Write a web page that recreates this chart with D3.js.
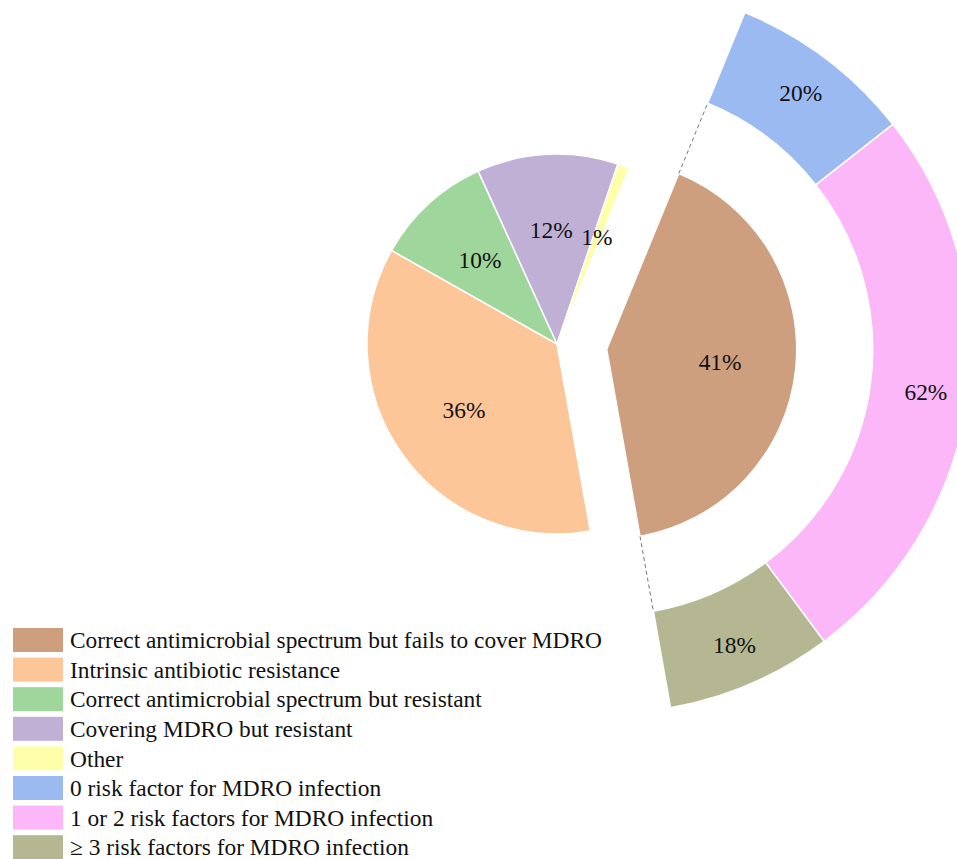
<!DOCTYPE html>
<html>
<head>
<meta charset="utf-8">
<script src="https://cdn.jsdelivr.net/npm/d3@7"></script>
<style>
  html, body { margin: 0; padding: 0; background: #fff; }
  svg text { font-family: "Liberation Serif", "Times New Roman", serif; }
</style>
</head>
<body>
<svg id="chart" width="957" height="859"></svg>
<script>
// ---- data ----
const pieCategories = [
  "Correct antimicrobial spectrum but fails to cover MDRO",
  "Intrinsic antibiotic resistance",
  "Correct antimicrobial spectrum but resistant",
  "Covering MDRO but resistant",
  "Other"
];
const pieValues = [41, 36, 10, 12, 1];
const pieLabels = ["41%", "36%", "10%", "12%", "1%"];
const pieColors = ["#CE9F7E", "#FCC698", "#9ED69B", "#C1B0D6", "#FFFFAA"];

const ringCategories = [
  "0 risk factor for MDRO infection",
  "1 or 2 risk factors for MDRO infection",
  "\u2265 3 risk factors for MDRO infection"
];
const ringValues = [20, 62, 18];
const ringLabels = ["20%", "62%", "18%"];
const ringColors = ["#9BBAF2", "#FBB7F8", "#B4B792"];

// ---- layout ----
const svg = d3.select("#chart");
const cx = 557, cy = 344;
const R = 190;
const explode = 50;
const labelR = 114;
const ringInner = 266, ringOuter = 364, ringLabelR = 322;
const startDeg = 22.3;
const fontSize = 23.4;
const toRad = d => d * Math.PI / 180;

const pie = d3.pie().sort(null).value(d => d)
  .startAngle(toRad(startDeg)).endAngle(toRad(startDeg) + 2 * Math.PI);
const arcs = pie(pieValues);
const arc = d3.arc().innerRadius(0).outerRadius(R);
const labelArc = d3.arc().innerRadius(labelR).outerRadius(labelR);

const main = svg.append("g").attr("transform", `translate(${cx},${cy})`);

// exploded slice offset
const a0 = arcs[0];
const mid0 = (a0.startAngle + a0.endAngle) / 2;
const ex = explode * Math.sin(mid0), ey = -explode * Math.cos(mid0);

main.selectAll("path.slice").data(arcs).join("path")
  .attr("class", "slice")
  .attr("d", arc)
  .attr("transform", (d, i) => i === 0 ? `translate(${ex},${ey})` : null)
  .attr("fill", (d, i) => pieColors[i])
  .attr("stroke", "#fff").attr("stroke-width", 1.5);

main.selectAll("text.plabel").data(arcs).join("text")
  .attr("class", "plabel")
  .attr("transform", (d, i) => {
    const c = labelArc.centroid(d);
    return i === 0 ? `translate(${c[0] + ex},${c[1] + ey})` : `translate(${c[0]},${c[1]})`;
  })
  .attr("text-anchor", "middle").attr("dy", "0.35em")
  .attr("font-size", fontSize).attr("fill", "#111")
  .text((d, i) => pieLabels[i]);

// ---- ring around the exploded slice ----
const ring = svg.append("g").attr("transform", `translate(${cx + ex},${cy + ey})`);
const ringPie = d3.pie().sort(null).value(d => d)
  .startAngle(a0.startAngle).endAngle(a0.endAngle);
const ringArcs = ringPie(ringValues);
const ringArc = d3.arc().innerRadius(ringInner).outerRadius(ringOuter);
const ringLabelArc = d3.arc().innerRadius(ringLabelR).outerRadius(ringLabelR);

ring.selectAll("path.rseg").data(ringArcs).join("path")
  .attr("class", "rseg")
  .attr("d", ringArc)
  .attr("fill", (d, i) => ringColors[i])
  .attr("stroke", "#fff").attr("stroke-width", 1.5);

ring.selectAll("text.rlabel").data(ringArcs).join("text")
  .attr("class", "rlabel")
  .attr("transform", d => `translate(${ringLabelArc.centroid(d)})`)
  .attr("text-anchor", "middle").attr("dy", "0.35em")
  .attr("font-size", fontSize).attr("fill", "#111")
  .text((d, i) => ringLabels[i]);

// dashed connector lines
[a0.startAngle, a0.endAngle].forEach(ang => {
  ring.append("line")
    .attr("x1", R * Math.sin(ang)).attr("y1", -R * Math.cos(ang))
    .attr("x2", ringInner * Math.sin(ang)).attr("y2", -ringInner * Math.cos(ang))
    .attr("stroke", "#777").attr("stroke-width", 1)
    .attr("stroke-dasharray", "4,3");
});

// ---- legend ----
const legendCats = pieCategories.concat(ringCategories);
const legendColors = pieColors.concat(ringColors);
const legend = svg.append("g").attr("transform", "translate(13,640)");
const rowH = 29.6;
const rows = legend.selectAll("g.row").data(legendCats).join("g")
  .attr("class", "row")
  .attr("transform", (d, i) => `translate(0,${i * rowH})`);
rows.append("rect")
  .attr("x", 0).attr("y", -12).attr("width", 50).attr("height", 24)
  .attr("fill", (d, i) => legendColors[i]);
rows.append("text")
  .attr("x", 57).attr("y", 0).attr("dy", "0.35em")
  .attr("font-size", fontSize).attr("fill", "#111")
  .text(d => d);
</script>
</body>
</html>
